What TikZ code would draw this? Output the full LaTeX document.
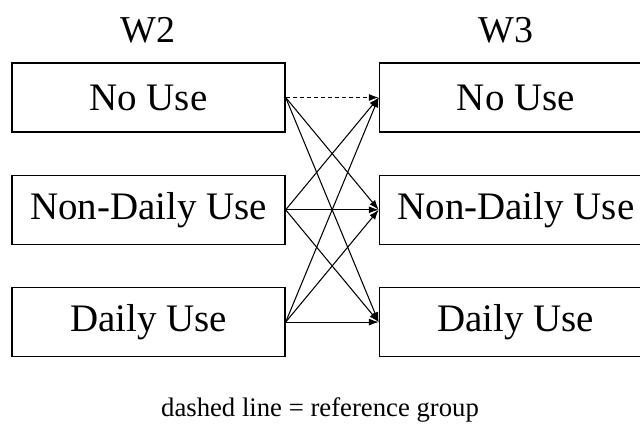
\documentclass[tikz,border=0pt]{standalone}
\usepackage{fontspec}
\setmainfont{Liberation Serif}
\usetikzlibrary{positioning, arrows.meta}

\tikzset{
	usebox/.style={draw, line width=0.9pt, minimum width=6.825cm, minimum height=1.725cm,
		inner sep=0pt, font=\fontsize{27.7}{32}\selectfont},
	wave/.style={font=\fontsize{27}{32}\selectfont},
	trans/.style={-{Latex[length=7pt,width=5pt]}, line width=0.75pt}
}

\begin{document}
\begin{tikzpicture}[x=0.025cm, y=-0.025cm, node distance=1.05cm and 2.325cm]
		\clip (0,0) rectangle (640,428);
		
		\node(w2no) [usebox] at (148.5,97.5) {No Use};
		\node(w2non) [usebox, below=of w2no] {Non-Daily Use};
		\node(w2day) [usebox, below=of w2non] {Daily Use};
		
		\node(w3no) [usebox, right=of w2no] {No Use};
		\node(w3non) [usebox, below=of w3no] {Non-Daily Use};
		\node(w3day) [usebox, below=of w3non] {Daily Use};
		
		\node(w2) [wave] at (148,30) {W2};
		\node(w3) [wave] at (506,30) {W3};
		\node(note) at (320,410) {\fontsize{19}{22}\selectfont dashed line = reference group};
		
		\draw[trans, densely dashed] (w2no.east) -- (w3no.west);
		\draw[trans] (w2no.east) -- (w3non.west);
		\draw[trans] (w2no.east) -- (w3day.west);
		
		\draw[trans] (w2non.east) -- (w3no.west);
		\draw[trans] (w2non.east) -- (w3non.west);
		\draw[trans] (w2non.east) -- (w3day.west);
		
		\draw[trans] (w2day.east) -- (w3no.west);
		\draw[trans] (w2day.east) -- (w3non.west);
		\draw[trans] (w2day.east) -- (w3day.west);
		
		\end{tikzpicture}
\end{document}
